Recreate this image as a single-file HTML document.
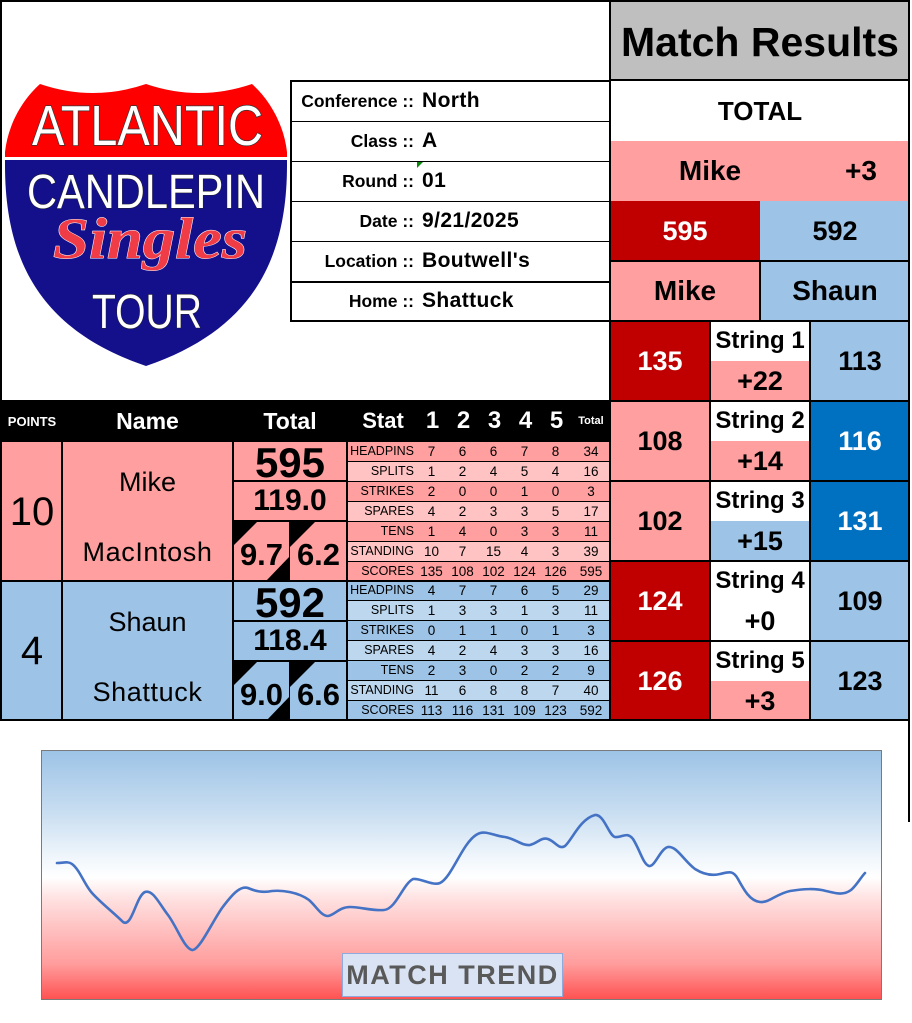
<!DOCTYPE html>
<html><head><meta charset="utf-8">
<style>
*{margin:0;padding:0;box-sizing:border-box}
body{width:912px;height:1023px;position:relative;overflow:hidden;background:#fff;font-family:"Liberation Sans",sans-serif;color:#000}
.a{position:absolute}
.c{position:absolute;display:flex;align-items:center;justify-content:center;line-height:1;white-space:nowrap}
.k{position:absolute;background:#000}
.b{font-weight:bold}
.r{position:absolute;left:348px;width:262px;height:20px;display:grid;grid-template-columns:68px 31px 31px 31px 31px 31px 40px;align-items:center;text-align:center;font-size:13.5px;border-bottom:1px solid #000;line-height:19px}
.r span:first-child{text-align:right;padding-right:2px;font-size:12.5px}
.m1{background:#ff9f9f}.m2{background:#ffc3c3}.s1{background:#9dc3e6}.s2{background:#bdd7ee}
.lab{position:absolute;left:290px;width:124px;text-align:right;font-weight:bold;font-size:17.5px;line-height:40px;white-space:nowrap}
.val{position:absolute;left:422px;font-weight:bold;font-size:21px;line-height:40px;letter-spacing:0.4px}
</style></head><body>

<!-- LOGO -->
<svg class="a" style="left:0;top:0" width="292" height="400">
<defs><clipPath id="sh"><path d="M5,152 C8,125 22,100 40,84 Q93,102 146,84 Q199,102 252,84 C270,100 284,125 287,152 L287,165 C287,260 252,330 146,366 C40,330 5,260 5,165 Z"/></clipPath></defs>
<g clip-path="url(#sh)">
<rect x="0" y="70" width="292" height="88" fill="#ff0000"/>
<rect x="0" y="157" width="292" height="4" fill="#fff"/>
<rect x="0" y="160" width="292" height="220" fill="#14108c"/>
</g>
<text x="32" y="145" textLength="231" lengthAdjust="spacingAndGlyphs" font-family="Liberation Sans" font-size="57" fill="#fff" stroke="#333" stroke-width="1.5" paint-order="stroke">ATLANTIC</text>
<text x="27" y="208" textLength="238" lengthAdjust="spacingAndGlyphs" font-family="Liberation Sans" font-size="48" fill="#fff" stroke="#222" stroke-width="1" paint-order="stroke">CANDLEPIN</text>
<text x="53" y="258" textLength="194" lengthAdjust="spacingAndGlyphs" font-family="Liberation Serif" font-style="italic" font-weight="bold" font-size="58" fill="#f03c46" stroke="#fff" stroke-width="1" paint-order="stroke">Singles</text>
<text x="92" y="328" textLength="110" lengthAdjust="spacingAndGlyphs" font-family="Liberation Sans" font-size="48" fill="#fff" stroke="#222" stroke-width="1" paint-order="stroke">TOUR</text>
</svg>

<!-- INFO TABLE -->
<div class="a" style="left:290px;top:80px;width:321px;height:242px;border:2px solid #000"></div>
<div class="k" style="left:290px;top:121px;width:320px;height:1px"></div>
<div class="k" style="left:290px;top:161px;width:320px;height:1px"></div>
<div class="k" style="left:290px;top:201px;width:320px;height:1px"></div>
<div class="k" style="left:290px;top:241px;width:320px;height:1px"></div>
<div class="k" style="left:290px;top:281px;width:320px;height:2px"></div>
<div class="lab" style="top:81px">Conference ::</div><div class="val" style="top:81px">North</div>
<div class="lab" style="top:121px">Class ::</div><div class="val" style="top:121px">A</div>
<div class="lab" style="top:161px">Round ::</div><div class="val" style="top:161px">01</div>
<div class="lab" style="top:201px">Date ::</div><div class="val" style="top:201px">9/21/2025</div>
<div class="lab" style="top:241px">Location ::</div><div class="val" style="top:241px">Boutwell's</div>
<div class="lab" style="top:281px">Home ::</div><div class="val" style="top:281px">Shattuck</div>
<svg class="a" style="left:416px;top:162px" width="8" height="8"><polygon points="1,0 7,0 1,6" fill="#0a8a0a"/></svg>

<!-- MATCH RESULTS -->
<div class="c b" style="left:610px;top:0;width:300px;height:80px;background:#bfbfbf;font-size:41px;padding-top:4px">Match Results</div>
<div class="c b" style="left:610px;top:80px;width:300px;height:61px;background:#fff;font-size:26px">TOTAL</div>
<div class="a" style="left:610px;top:141px;width:300px;height:60px;background:#ff9f9f"></div>
<div class="c b" style="left:610px;top:141px;width:200px;height:60px;font-size:28px">Mike</div>
<div class="c b" style="left:831px;top:141px;width:60px;height:60px;font-size:28px">+3</div>
<div class="c b" style="left:610px;top:201px;width:150px;height:60px;background:#c00000;color:#fff;font-size:27px">595</div>
<div class="c b" style="left:760px;top:201px;width:150px;height:60px;background:#9dc3e6;font-size:27px">592</div>
<div class="c b" style="left:610px;top:261px;width:150px;height:60px;background:#ff9f9f;font-size:28px">Mike</div>
<div class="c b" style="left:760px;top:261px;width:150px;height:60px;background:#9dc3e6;font-size:28px">Shaun</div>

<!-- strings -->
<div class="c b" style="left:610px;top:321px;width:100px;height:80px;background:#c00000;color:#fff;font-size:27px">135</div>
<div class="c b" style="left:710px;top:321px;width:100px;height:40px;background:#fff;font-size:24px">String 1</div>
<div class="c b" style="left:710px;top:361px;width:100px;height:40px;background:#ff9f9f;font-size:27px">+22</div>
<div class="c b" style="left:810px;top:321px;width:100px;height:80px;background:#9dc3e6;font-size:27px">113</div>

<div class="c b" style="left:610px;top:401px;width:100px;height:80px;background:#ff9f9f;font-size:27px">108</div>
<div class="c b" style="left:710px;top:401px;width:100px;height:40px;background:#fff;font-size:24px">String 2</div>
<div class="c b" style="left:710px;top:441px;width:100px;height:40px;background:#ff9f9f;font-size:27px">+14</div>
<div class="c b" style="left:810px;top:401px;width:100px;height:80px;background:#0070c0;color:#fff;font-size:27px">116</div>

<div class="c b" style="left:610px;top:481px;width:100px;height:80px;background:#ff9f9f;font-size:27px">102</div>
<div class="c b" style="left:710px;top:481px;width:100px;height:40px;background:#fff;font-size:24px">String 3</div>
<div class="c b" style="left:710px;top:521px;width:100px;height:40px;background:#9dc3e6;font-size:27px">+15</div>
<div class="c b" style="left:810px;top:481px;width:100px;height:80px;background:#0070c0;color:#fff;font-size:27px">131</div>

<div class="c b" style="left:610px;top:561px;width:100px;height:80px;background:#c00000;color:#fff;font-size:27px">124</div>
<div class="c b" style="left:710px;top:561px;width:100px;height:40px;background:#fff;font-size:24px">String 4</div>
<div class="c b" style="left:710px;top:601px;width:100px;height:40px;background:#fff;font-size:27px">+0</div>
<div class="c b" style="left:810px;top:561px;width:100px;height:80px;background:#9dc3e6;font-size:27px">109</div>

<div class="c b" style="left:610px;top:641px;width:100px;height:80px;background:#c00000;color:#fff;font-size:27px">126</div>
<div class="c b" style="left:710px;top:641px;width:100px;height:40px;background:#fff;font-size:24px">String 5</div>
<div class="c b" style="left:710px;top:681px;width:100px;height:40px;background:#ff9f9f;font-size:27px">+3</div>
<div class="c b" style="left:810px;top:641px;width:100px;height:80px;background:#9dc3e6;font-size:27px">123</div>

<!-- STAT TABLE -->
<div class="a" style="left:2px;top:400px;width:608px;height:42px;background:#000"></div>
<div class="c b" style="left:2px;top:400px;width:60px;height:42px;color:#fff;font-size:13px">POINTS</div>
<div class="c b" style="left:62px;top:400px;width:171px;height:42px;color:#fff;font-size:23px">Name</div>
<div class="c b" style="left:233px;top:400px;width:114px;height:42px;color:#fff;font-size:23px">Total</div>
<div class="c b" style="left:348px;top:400px;width:70px;height:42px;color:#fff;font-size:22px">Stat</div>
<div class="c b" style="left:417px;top:400px;width:31px;height:42px;color:#fff;font-size:24px">1</div>
<div class="c b" style="left:448px;top:400px;width:31px;height:42px;color:#fff;font-size:24px">2</div>
<div class="c b" style="left:479px;top:400px;width:31px;height:42px;color:#fff;font-size:24px">3</div>
<div class="c b" style="left:510px;top:400px;width:31px;height:42px;color:#fff;font-size:24px">4</div>
<div class="c b" style="left:541px;top:400px;width:31px;height:42px;color:#fff;font-size:24px">5</div>
<div class="c b" style="left:572px;top:400px;width:38px;height:42px;color:#fff;font-size:11px">Total</div>

<!-- Mike block -->
<div class="c" style="left:2px;top:442px;width:60px;height:139px;background:#ff9f9f;font-size:40px">10</div>
<div class="a" style="left:62px;top:442px;width:171px;height:139px;background:#ff9f9f"></div>
<div class="c" style="left:62px;top:462px;width:171px;height:40px;font-size:27px">Mike</div>
<div class="c" style="left:62px;top:532px;width:171px;height:40px;font-size:27px;letter-spacing:0.6px">MacIntosh</div>
<div class="c b" style="left:233px;top:442px;width:114px;height:39px;background:#ff9f9f;font-size:42px;padding-top:3px">595</div>
<div class="c b" style="left:233px;top:481px;width:114px;height:40px;background:#ff9f9f;font-size:30px">119.0</div>
<div class="c b" style="left:233px;top:521px;width:57px;height:60px;background:#ff9f9f;font-size:31px;padding-top:6px">9.7</div>
<div class="c b" style="left:290px;top:521px;width:57px;height:60px;background:#ff9f9f;font-size:31px;padding-top:6px">6.2</div>

<!-- Shaun block -->
<div class="c" style="left:2px;top:581px;width:60px;height:140px;background:#9dc3e6;font-size:40px">4</div>
<div class="a" style="left:62px;top:581px;width:171px;height:140px;background:#9dc3e6"></div>
<div class="c" style="left:62px;top:602px;width:171px;height:40px;font-size:27px">Shaun</div>
<div class="c" style="left:62px;top:672px;width:171px;height:40px;font-size:27px;letter-spacing:0.6px">Shattuck</div>
<div class="c b" style="left:233px;top:581px;width:114px;height:40px;background:#9dc3e6;font-size:42px;padding-top:3px">592</div>
<div class="c b" style="left:233px;top:621px;width:114px;height:40px;background:#9dc3e6;font-size:30px">118.4</div>
<div class="c b" style="left:233px;top:661px;width:57px;height:60px;background:#9dc3e6;font-size:31px;padding-top:6px">9.0</div>
<div class="c b" style="left:290px;top:661px;width:57px;height:60px;background:#9dc3e6;font-size:31px;padding-top:6px">6.6</div>

<!-- triangles -->
<svg class="a" style="left:0;top:0" width="400" height="730">
<polygon points="233,521 258,521 233,546" fill="#000"/>
<polygon points="290,556 290,581 266,581" fill="#000"/>
<polygon points="290,521 316,521 290,547" fill="#000"/>
<polygon points="233,661 258,661 233,686" fill="#000"/>
<polygon points="290,696 290,721 266,721" fill="#000"/>
<polygon points="290,661 316,661 290,687" fill="#000"/>
</svg>

<!-- stat rows -->
<div class="r m1" style="top:442px"><span>HEADPINS</span><span>7</span><span>6</span><span>6</span><span>7</span><span>8</span><span>34</span></div>
<div class="r m2" style="top:462px"><span>SPLITS</span><span>1</span><span>2</span><span>4</span><span>5</span><span>4</span><span>16</span></div>
<div class="r m1" style="top:482px"><span>STRIKES</span><span>2</span><span>0</span><span>0</span><span>1</span><span>0</span><span>3</span></div>
<div class="r m2" style="top:502px"><span>SPARES</span><span>4</span><span>2</span><span>3</span><span>3</span><span>5</span><span>17</span></div>
<div class="r m1" style="top:522px"><span>TENS</span><span>1</span><span>4</span><span>0</span><span>3</span><span>3</span><span>11</span></div>
<div class="r m2" style="top:542px"><span>STANDING</span><span>10</span><span>7</span><span>15</span><span>4</span><span>3</span><span>39</span></div>
<div class="r m1" style="top:562px;height:19px"><span>SCORES</span><span>135</span><span>108</span><span>102</span><span>124</span><span>126</span><span>595</span></div>
<div class="r s1" style="top:581px"><span>HEADPINS</span><span>4</span><span>7</span><span>7</span><span>6</span><span>5</span><span>29</span></div>
<div class="r s2" style="top:601px"><span>SPLITS</span><span>1</span><span>3</span><span>3</span><span>1</span><span>3</span><span>11</span></div>
<div class="r s1" style="top:621px"><span>STRIKES</span><span>0</span><span>1</span><span>1</span><span>0</span><span>1</span><span>3</span></div>
<div class="r s2" style="top:641px"><span>SPARES</span><span>4</span><span>2</span><span>4</span><span>3</span><span>3</span><span>16</span></div>
<div class="r s1" style="top:661px"><span>TENS</span><span>2</span><span>3</span><span>0</span><span>2</span><span>2</span><span>9</span></div>
<div class="r s2" style="top:681px"><span>STANDING</span><span>11</span><span>6</span><span>8</span><span>8</span><span>7</span><span>40</span></div>
<div class="r s1" style="top:701px"><span>SCORES</span><span>113</span><span>116</span><span>131</span><span>109</span><span>123</span><span>592</span></div>

<!-- stat table lines -->
<div class="k" style="left:0;top:580px;width:610px;height:2px"></div>
<div class="k" style="left:61px;top:442px;width:2px;height:279px"></div>
<div class="k" style="left:232px;top:442px;width:2px;height:279px"></div>
<div class="k" style="left:346px;top:442px;width:2px;height:279px"></div>
<div class="k" style="left:233px;top:480px;width:114px;height:2px"></div>
<div class="k" style="left:233px;top:520px;width:114px;height:2px"></div>
<div class="k" style="left:233px;top:620px;width:114px;height:2px"></div>
<div class="k" style="left:233px;top:660px;width:114px;height:2px"></div>
<div class="k" style="left:289px;top:521px;width:1px;height:60px"></div>
<div class="k" style="left:289px;top:661px;width:1px;height:60px"></div>

<!-- match results lines -->
<div class="k" style="left:609px;top:0;width:2px;height:721px"></div>
<div class="k" style="left:610px;top:79px;width:300px;height:2px"></div>
<div class="k" style="left:610px;top:260px;width:300px;height:2px"></div>
<div class="k" style="left:759px;top:261px;width:2px;height:60px"></div>
<div class="k" style="left:610px;top:320px;width:300px;height:2px"></div>
<div class="k" style="left:610px;top:400px;width:300px;height:2px"></div>
<div class="k" style="left:610px;top:480px;width:300px;height:2px"></div>
<div class="k" style="left:610px;top:560px;width:300px;height:2px"></div>
<div class="k" style="left:610px;top:640px;width:300px;height:2px"></div>
<div class="k" style="left:709px;top:321px;width:2px;height:400px"></div>
<div class="k" style="left:809px;top:321px;width:2px;height:400px"></div>

<!-- outer frame -->
<div class="k" style="left:0;top:0;width:910px;height:2px"></div>
<div class="k" style="left:0;top:0;width:2px;height:721px"></div>
<div class="k" style="left:908px;top:0;width:2px;height:822px"></div>
<div class="k" style="left:0;top:719px;width:910px;height:2px"></div>

<!-- CHART -->
<div class="a" style="left:41px;top:750px;width:841px;height:250px;border:1px solid #7a7a7a;background:linear-gradient(to bottom,#9dc3e6 0%,#c9def1 25%,#eef5fb 42%,#ffffff 51%,#ffe0e0 60%,#ffc0c0 72%,#ff9c9c 86%,#ff5252 100%)"></div>
<svg class="a" style="left:0;top:740px" width="912" height="283">
<path fill="none" stroke="#4472c4" stroke-width="2.6" stroke-linejoin="round" stroke-linecap="round" transform="translate(0,-740)" d="M57,863 C63,863 68,861 72,864 C80,870 84,884 92,893 C101,903 114,913 123,922 C132,928 136,896 145,892 C153,889 160,905 168,915 C177,927 184,948 192,950 C199,951 211,924 222,908 C231,896 240,885 248,888 C255,891 262,893 272,891 C282,890 298,892 309,900 C316,906 321,916 328,916 C335,915 339,907 350,907 C361,907 372,911 384,910 C396,909 403,884 413,879 C421,878 432,886 440,883 C452,877 462,844 476,835 C485,829 493,836 505,837 C516,839 522,846 530,845 C538,843 541,837 548,839 C556,842 559,850 565,846 C572,840 580,819 595,815 C604,814 609,836 615,837 C622,838 627,831 633,839 C640,850 643,864 649,866 C655,867 660,849 668,847 C677,846 684,861 695,869 C703,874 712,876 720,874 C729,872 733,870 738,879 C744,890 750,901 760,902 C769,903 776,894 790,891 C803,889 815,888 826,891 C835,893 843,896 851,890 C857,885 861,877 865,873"/>
</svg>
<div class="c b" style="left:342px;top:953px;width:221px;height:44px;background:#dae3f3;border:1px solid #8faadc;color:#595959;font-size:27px;letter-spacing:1.5px">MATCH TREND</div>

</body></html>
